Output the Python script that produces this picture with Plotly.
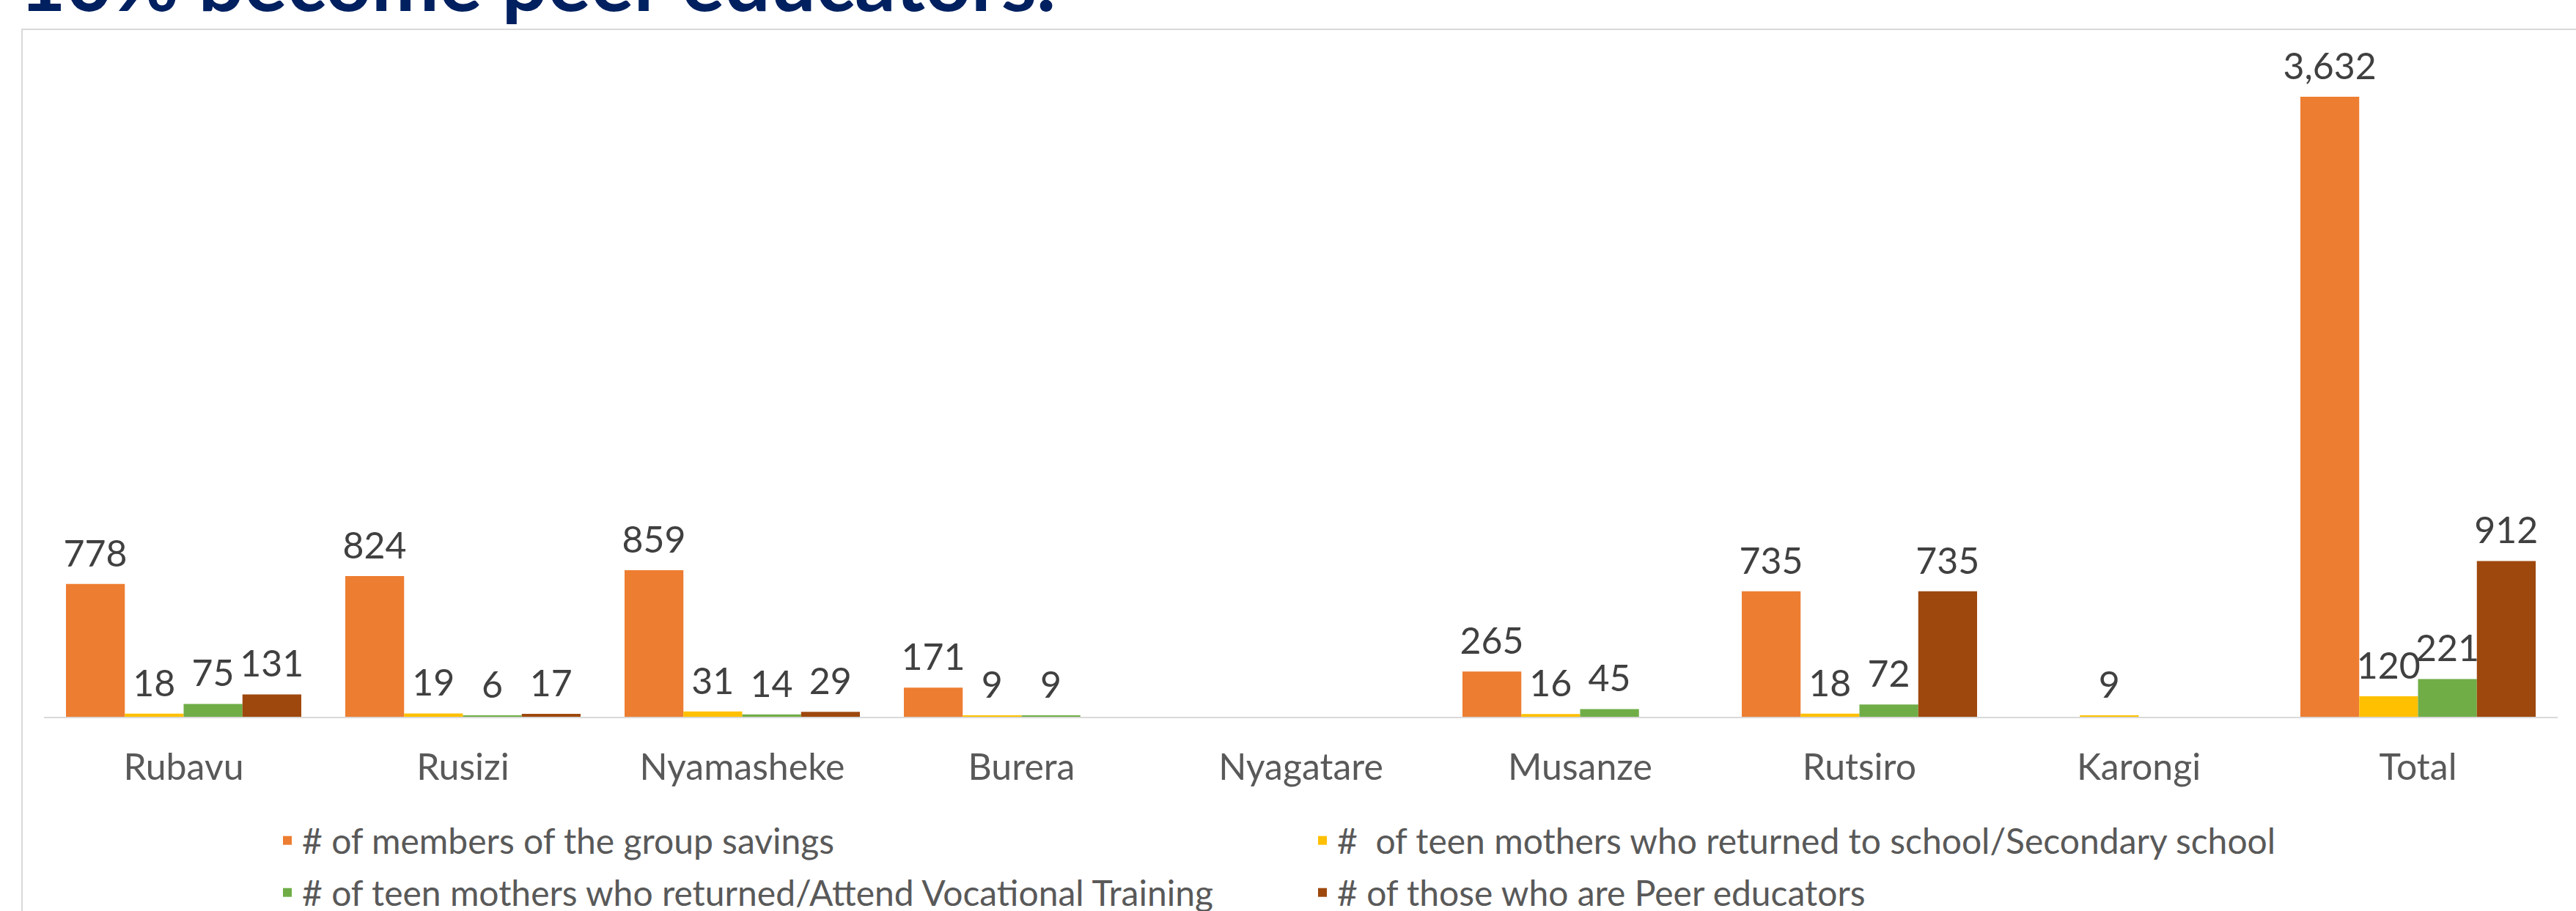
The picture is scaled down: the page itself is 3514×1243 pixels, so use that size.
import plotly.graph_objects as go

categories = ["Rubavu", "Rusizi", "Nyamasheke", "Burera", "Nyagatare",
              "Musanze", "Rutsiro", "Karongi", "Total"]
savings = [778, 824, 859, 171, None, 265, 735, None, 3632]
school = [18, 19, 31, 9, None, 16, 18, 9, 120]
vocational = [75, 6, 14, 9, None, 45, 72, None, 221]
peer = [131, 17, 29, None, None, None, 735, None, 912]

series_names = [
    "# of members of the group savings",
    "#  of teen mothers who returned to school/Secondary school",
    "# of teen mothers who returned/Attend Vocational Training",
    "# of those who are Peer educators",
]
series_values = [savings, school, vocational, peer]
colors = ["#ED7D31", "#FFC000", "#70AD47", "#9E480E"]
legend_ids = ["legend", "legend", "legend2", "legend2"]
title_text = "10% become peer educators."

W, H = 3514, 1243
L, R, T, B = 60, 25, 40, 265
plot_w = W - L - R
plot_h = H - T - B
GAP = 0.1575

FONT = "Lato"
LABEL_GRAY = "#404040"
AXIS_GRAY = "#595959"
LABEL_SIZE = 50


def fmt(v):
    return "" if v is None else f"{v:,}"


fig = go.Figure()
for name, vals, col, lg in zip(series_names, series_values, colors, legend_ids):
    fig.add_trace(go.Bar(
        x=categories, y=vals, name=name, legend=lg,
        marker=dict(color=col, line=dict(width=0)),
        hoverinfo="x+y",
    ))
# value labels, grouped the same way as the bars
for name, vals in zip(series_names, series_values):
    fig.add_trace(go.Scatter(
        x=categories, y=vals, mode="markers+text",
        marker=dict(size=17, opacity=0),
        text=[fmt(v) for v in vals], textposition="top center",
        textfont=dict(family=FONT, size=LABEL_SIZE, color=LABEL_GRAY),
        showlegend=False, hoverinfo="skip", cliponaxis=False,
    ))

# outer frame of the chart area (light grey border)
fig.add_shape(type="rect", xref="paper", yref="paper",
              x0=(30 - L) / plot_w, x1=1.05,
              y0=-0.5, y1=1.0,
              line=dict(color="#D9D9D9", width=2), layer="below")

fig.add_annotation(
    text="<b>" + title_text + "</b>", xref="paper", yref="paper",
    x=(24 - L) / plot_w, y=1 + (T - 40) / plot_h,
    xanchor="left", yanchor="bottom", showarrow=False,
    font=dict(family=FONT, size=110, color="#002060"),
)


def legend_cfg(center_px):
    return dict(
        orientation="h", x=(372 - L) / plot_w, xanchor="left",
        y=(H - B - center_px) / plot_h, yanchor="middle",
        entrywidth=1367, entrywidthmode="pixels",
        font=dict(family=FONT, size=48, color=AXIS_GRAY),
        itemwidth=30, traceorder="normal", bgcolor="rgba(0,0,0,0)",
    )


fig.update_layout(
    width=W, height=H,
    margin=dict(l=L, r=R, t=T, b=B, pad=0, autoexpand=False),
    paper_bgcolor="white", plot_bgcolor="white",
    barmode="group", bargap=GAP, bargroupgap=0,
    scattermode="group", scattergap=GAP,
    showlegend=True,
    legend=legend_cfg(1147),
    legend2=legend_cfg(1218),
    xaxis=dict(
        showline=True, linecolor="#D9D9D9", linewidth=2, automargin=False,
        ticks="", showgrid=False, zeroline=False, ticklabelstandoff=24,
        tickfont=dict(family=FONT, size=50, color=AXIS_GRAY),
    ),
    yaxis=dict(
        range=[0, plot_h / (846 / 3632)], automargin=False,
        showgrid=False, zeroline=False, showticklabels=False, showline=False,
    ),
    font=dict(family=FONT),
)

fig.write_html("out.html",
               config={"displayModeBar": False},
               post_script="document.body.style.margin='0px';")
